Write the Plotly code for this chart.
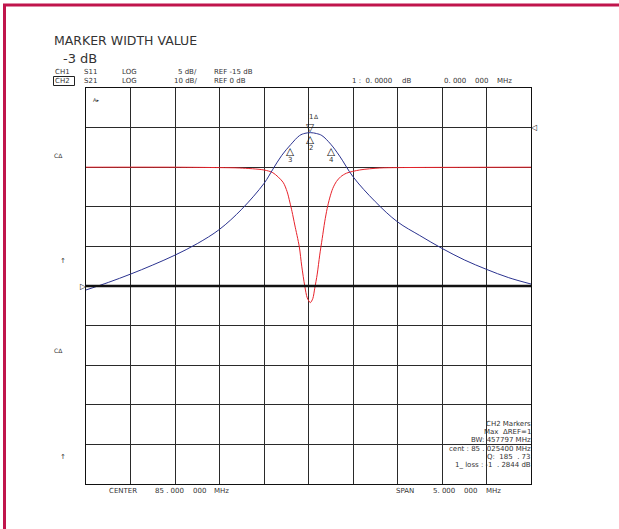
import plotly.graph_objects as go

# ---------------- data ----------------
ch1_freq_mhz = [82.5, 83.5, 84.0, 84.228, 84.5, 84.6, 84.714, 84.76, 84.79, 84.815,
                84.846, 84.896, 84.924, 84.958, 84.986, 85.02, 85.048, 85.07, 85.098,
                85.126, 85.154, 85.182, 85.21, 85.238, 85.272, 85.314, 85.362, 85.426,
                85.575, 85.8, 86.0, 87.5]
ch1_s11_db = [0.0, 0.0, -0.05, -0.1, -0.35, -0.7, -1.9, -3.1, -4.4, -5.6,
              -7.3, -10.0, -12.5, -15.0, -16.5, -17.1, -16.6, -15.3, -13.5,
              -11.1, -9.0, -6.9, -5.2, -3.9, -2.7, -1.8, -1.2, -0.76,
              -0.35, -0.1, -0.05, 0.0]

ch2_freq_mhz = [82.5, 82.75, 83.0, 83.25, 83.5, 83.75, 84.0, 84.25, 84.5, 84.6,
                84.7, 84.8, 84.9, 84.96, 85.025, 85.09, 85.15, 85.25, 85.35, 85.5,
                85.75, 86.0, 86.25, 86.5, 86.75, 87.0, 87.25, 87.5]
ch2_s21_db = [-41.0, -39.1, -37.0, -34.7, -32.2, -29.3, -25.7, -20.6, -14.1, -10.5,
              -7.0, -4.3, -2.0, -1.45, -1.28, -1.5, -2.0, -4.2, -7.2, -12.4,
              -18.7, -23.8, -27.25, -30.5, -33.4, -35.8, -37.9, -39.5]

center_mhz = 85.0
span_mhz = 5.0
ch1_ref_db, ch1_scale_db = -15, 5
ch2_ref_db, ch2_scale_db = 0, 10

marker_ids = ["1", "2", "3", "4"]
marker_freq_mhz = [85.0254, 85.0254, 84.7965, 85.2543]
marker_db = [-1.2844, -1.2844, -4.2844, -4.2844]

# ---------------- geometry helpers ----------------
W, H = 619, 529
L, R, T, B = 86, 88, 88, 45
PW, PH = W - L - R, H - T - B


def px(x):
    return (x - L) / PW


def py(y):
    return (H - B - y) / PH


FONT = "DejaVu Sans"
TXT = "#333333"


def txt(x, y, s, size=7, anchor="left", color=TXT):
    return dict(xref="paper", yref="paper", x=px(x), y=py(y), text=s,
                showarrow=False, xanchor=anchor, yanchor="middle",
                font=dict(family=FONT, size=size, color=color))


fig = go.Figure()
fig.add_trace(go.Scatter(x=ch1_freq_mhz, y=ch1_s11_db, mode="lines",
                         line=dict(color="#e8232b", width=1, shape="spline", smoothing=0.8),
                         yaxis="y", hoverinfo="skip"))
fig.add_trace(go.Scatter(x=ch2_freq_mhz, y=ch2_s21_db, mode="lines",
                         line=dict(color="#2b3390", width=1, shape="spline", smoothing=1.0),
                         yaxis="y2", hoverinfo="skip"))

x0 = center_mhz - span_mhz / 2
x1 = center_mhz + span_mhz / 2
grid = "#2a2a2a"
fig.update_layout(
    width=W, height=H,
    margin=dict(l=L, r=R, t=T, b=B),
    paper_bgcolor="white", plot_bgcolor="white",
    showlegend=False,
    xaxis=dict(range=[x0, x1], tick0=x0, dtick=span_mhz / 10, showgrid=True,
               gridcolor=grid, gridwidth=1, showticklabels=False, ticks="",
               zeroline=False, showline=True, linecolor="#111", linewidth=1, mirror=True),
    yaxis=dict(range=[ch1_ref_db - 5 * ch1_scale_db, ch1_ref_db + 5 * ch1_scale_db],
               tick0=ch1_ref_db - 5 * ch1_scale_db, dtick=ch1_scale_db, showgrid=True,
               gridcolor=grid, gridwidth=1, showticklabels=False, ticks="",
               zeroline=False, showline=True, linecolor="#111", linewidth=1, mirror=True),
    yaxis2=dict(range=[ch2_ref_db - 9 * ch2_scale_db, ch2_ref_db + 1 * ch2_scale_db],
                overlaying="y", showgrid=False, showticklabels=False, ticks="",
                zeroline=False, showline=False, visible=False),
)

shapes = [
    # reference line CH1
    dict(type="line", xref="paper", yref="y", x0=0, x1=1, y0=ch1_ref_db, y1=ch1_ref_db,
         line=dict(color="#111", width=2.5), layer="above"),
    # outer crimson frame
    dict(type="line", xref="paper", yref="paper", x0=px(3), x1=px(W + 2), y0=py(5), y1=py(5),
         line=dict(color="#c0154c", width=3)),
    dict(type="line", xref="paper", yref="paper", x0=px(4.5), x1=px(4.5), y0=py(4), y1=py(H + 2),
         line=dict(color="#c0154c", width=3)),
    # CH2 box
    dict(type="rect", xref="paper", yref="paper", x0=px(53.5), x1=px(74.5), y0=py(76.5), y1=py(85.5),
         line=dict(color="#222", width=1)),
]

ann = [
    txt(52, 41, "MARKER WIDTH VALUE", size=12.5),
    txt(61, 58, "-3 dB", size=13),
    txt(53, 72, "CH1"), txt(82, 72, "S11"), txt(120, 72, "LOG"),
    txt(199, 72, "5 dB/", anchor="right"), txt(212, 72, "REF -15 dB"),
    txt(53, 81, "CH2"), txt(82, 81, "S21"), txt(120, 81, "LOG"),
    txt(199, 81, "10 dB/", anchor="right"), txt(212, 81, "REF 0 dB"),
    txt(350, 81, "1 :  0. 0000"), txt(400, 81, "dB"),
    txt(442, 81, "0. 000"), txt(473, 81, "000"), txt(495, 81, "MHz"),
    txt(107, 491, "CENTER"), txt(153, 491, "85 . 000"), txt(191, 491, "000"), txt(212, 491, "MHz"),
    txt(394, 491, "SPAN"), txt(431, 491, "5. 000"), txt(462, 491, "000"), txt(484, 491, "MHz"),
    txt(52, 155, "C\u0394", size=6), txt(58, 261, "\u2191", size=7),
    txt(52, 350, "C\u0394", size=6), txt(58, 457, "\u2191", size=7),
    txt(91, 100, "A\u25b8", size=5),
    txt(533, 424, "CH2 Markers", anchor="right"),
    txt(533, 432, "Max  \u0394REF=1", anchor="right"),
    txt(533, 440, "BW: 457797 MHz", anchor="right"),
    txt(533, 449, "cent : 85 . 025400 MHz", anchor="right"),
    txt(533, 457, "Q:  185  . 73", anchor="right"),
    txt(533, 465, "1_ loss : -1  . 2844 dB", anchor="right"),
]

# reference position markers
ann.append(dict(xref="paper", yref="y", x=0, y=ch1_ref_db, text="\u25b7", showarrow=False,
                xanchor="right", yanchor="middle", xshift=3,
                font=dict(family=FONT, size=8, color="#222")))
ann.append(dict(xref="paper", yref="y2", x=1, y=ch2_ref_db, text="\u25c1", showarrow=False,
                xanchor="left", yanchor="middle", xshift=-3,
                font=dict(family=FONT, size=8, color="#222")))

# trace markers
for mid, f, d in zip(marker_ids, marker_freq_mhz, marker_db):
    if mid == "1":
        sym, sh, lsh = "\u25bd", 6, 16
        ann.append(dict(xref="x", yref="y2", x=f, y=d, text="\u0394", showarrow=False,
                        xshift=6, yshift=lsh, font=dict(family=FONT, size=6, color=TXT)))
    else:
        sym, sh, lsh = "\u25b3", -6, -15
    ann.append(dict(xref="x", yref="y2", x=f, y=d, text=sym, showarrow=False,
                    yshift=sh, borderpad=0,
                    font=dict(family=FONT, size=10.5, color="#111")))
    ann.append(dict(xref="x", yref="y2", x=f, y=d, text=mid, showarrow=False,
                    yshift=lsh, font=dict(family=FONT, size=7, color=TXT)))

fig.update_layout(shapes=shapes, annotations=ann)

fig.write_html("out.html", config={"displayModeBar": False},
               post_script="document.body.style.margin='0';")
